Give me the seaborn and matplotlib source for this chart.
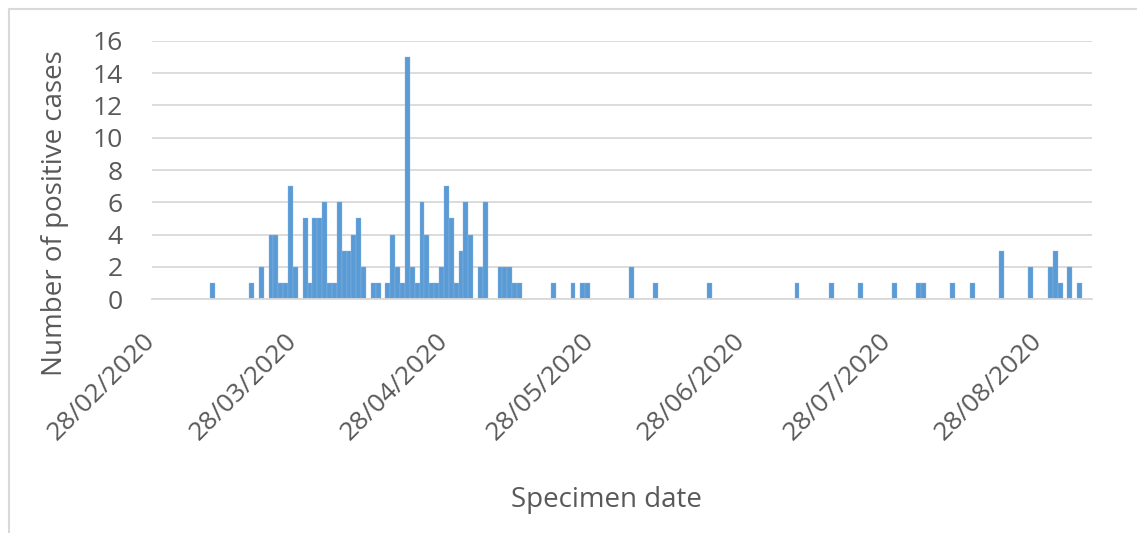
import pandas as pd
import numpy as np
import matplotlib
matplotlib.use("Agg")
import matplotlib.pyplot as plt
import seaborn as sns
from matplotlib.lines import Line2D

# cases per specimen date
specimen_dates = [
    "11/03/2020", "19/03/2020", "21/03/2020", "23/03/2020", "24/03/2020",
    "25/03/2020", "26/03/2020", "27/03/2020", "28/03/2020", "30/03/2020",
    "31/03/2020", "01/04/2020", "02/04/2020", "03/04/2020", "04/04/2020",
    "05/04/2020", "06/04/2020", "07/04/2020", "08/04/2020", "09/04/2020",
    "10/04/2020", "11/04/2020", "13/04/2020", "14/04/2020", "16/04/2020",
    "17/04/2020", "18/04/2020", "19/04/2020", "20/04/2020", "21/04/2020",
    "22/04/2020", "23/04/2020", "24/04/2020", "25/04/2020", "26/04/2020",
    "27/04/2020", "28/04/2020", "29/04/2020", "30/04/2020", "01/05/2020",
    "02/05/2020", "03/05/2020", "05/05/2020", "06/05/2020", "09/05/2020",
    "10/05/2020", "11/05/2020", "12/05/2020", "13/05/2020", "20/05/2020",
    "24/05/2020", "26/05/2020", "27/05/2020", "05/06/2020", "10/06/2020",
    "21/06/2020", "09/07/2020", "16/07/2020", "22/07/2020", "29/07/2020",
    "03/08/2020", "04/08/2020", "10/08/2020", "14/08/2020", "20/08/2020",
    "26/08/2020", "30/08/2020", "31/08/2020", "01/09/2020", "03/09/2020",
    "05/09/2020",
]
positive_cases = [
    1, 1, 2, 4, 4,
    1, 1, 7, 2, 5,
    1, 5, 5, 6, 1,
    1, 6, 3, 3, 4,
    5, 2, 1, 1, 1,
    4, 2, 1, 15, 2,
    1, 6, 4, 1, 1,
    2, 7, 5, 1, 3,
    6, 4, 2, 6, 2,
    2, 2, 1, 1, 1,
    1, 1, 1, 2, 1,
    1, 1, 1, 1, 1,
    1, 1, 1, 1, 3,
    2, 2, 3, 1, 2,
    1,
]
tick_dates = ["28/02/2020", "28/03/2020", "28/04/2020", "28/05/2020",
              "28/06/2020", "28/07/2020", "28/08/2020"]
axis_end = "08/09/2020"

start = pd.to_datetime(tick_dates[0], dayfirst=True)
df = pd.DataFrame({
    "date": pd.to_datetime(specimen_dates, dayfirst=True),
    "cases": positive_cases,
})
# day offset from the first axis date; bar spans its whole day
df["day"] = (df["date"] - start).dt.days + 0.5
tick_pos = [(pd.to_datetime(d, dayfirst=True) - start).days for d in tick_dates]
x_end = (pd.to_datetime(axis_end, dayfirst=True) - start).days

text_col = "#595959"
grid_col = "#D9D9D9"

sns.set_style("white")
plt.rcParams["font.family"] = ["Open Sans", "DejaVu Sans"]

fig = plt.figure(figsize=(11.37, 5.33), dpi=100)
ax = fig.add_axes([0.1334, 0.4385, 0.8268, 0.4851])

sns.barplot(data=df, x="day", y="cases", native_scale=True, width=1,
            color="#5B9BD5", saturation=1, linewidth=0.25, edgecolor="#8DB8E3",
            errorbar=None, ax=ax)

ax.set_xlim(0, x_end)
ax.set_ylim(0, 16)
ax.set_yticks(np.arange(0, 17, 2))
ax.yaxis.grid(True, color=grid_col, linewidth=1.3)
ax.set_axisbelow(True)
for s in ["top", "right", "left"]:
    ax.spines[s].set_visible(False)
ax.spines["bottom"].set_color(grid_col)
ax.spines["bottom"].set_linewidth(1.3)

ax.set_xticks(tick_pos)
ax.set_xticklabels(tick_dates, rotation=45, ha="right", va="center",
                   rotation_mode="anchor")
ax.tick_params(axis="x", length=7.2, width=1, color="#CFCFCF", pad=20,
               labelsize=19, labelcolor=text_col)
ax.tick_params(axis="y", length=0, pad=21, labelsize=19, labelcolor=text_col)
ax.set_xlabel("")
ax.set_ylabel("")

fig.text(55 / 1137, 1 - 213 / 533, "Number of positive cases", rotation=90,
         ha="center", va="center", fontsize=20, color=text_col)
fig.text(606 / 1137, 1 - 500 / 533, "Specimen date", ha="center", va="center",
         fontsize=20, color=text_col)

# outer chart frame (only top and left edges are inside the image)
fig.add_artist(Line2D([9 / 1137, 1], [1 - 8.5 / 533] * 2, transform=fig.transFigure,
                      color=grid_col, linewidth=1.5))
fig.add_artist(Line2D([9 / 1137] * 2, [0, 1 - 8.5 / 533], transform=fig.transFigure,
                      color=grid_col, linewidth=1.5))

fig.savefig("out.png", dpi=100)
